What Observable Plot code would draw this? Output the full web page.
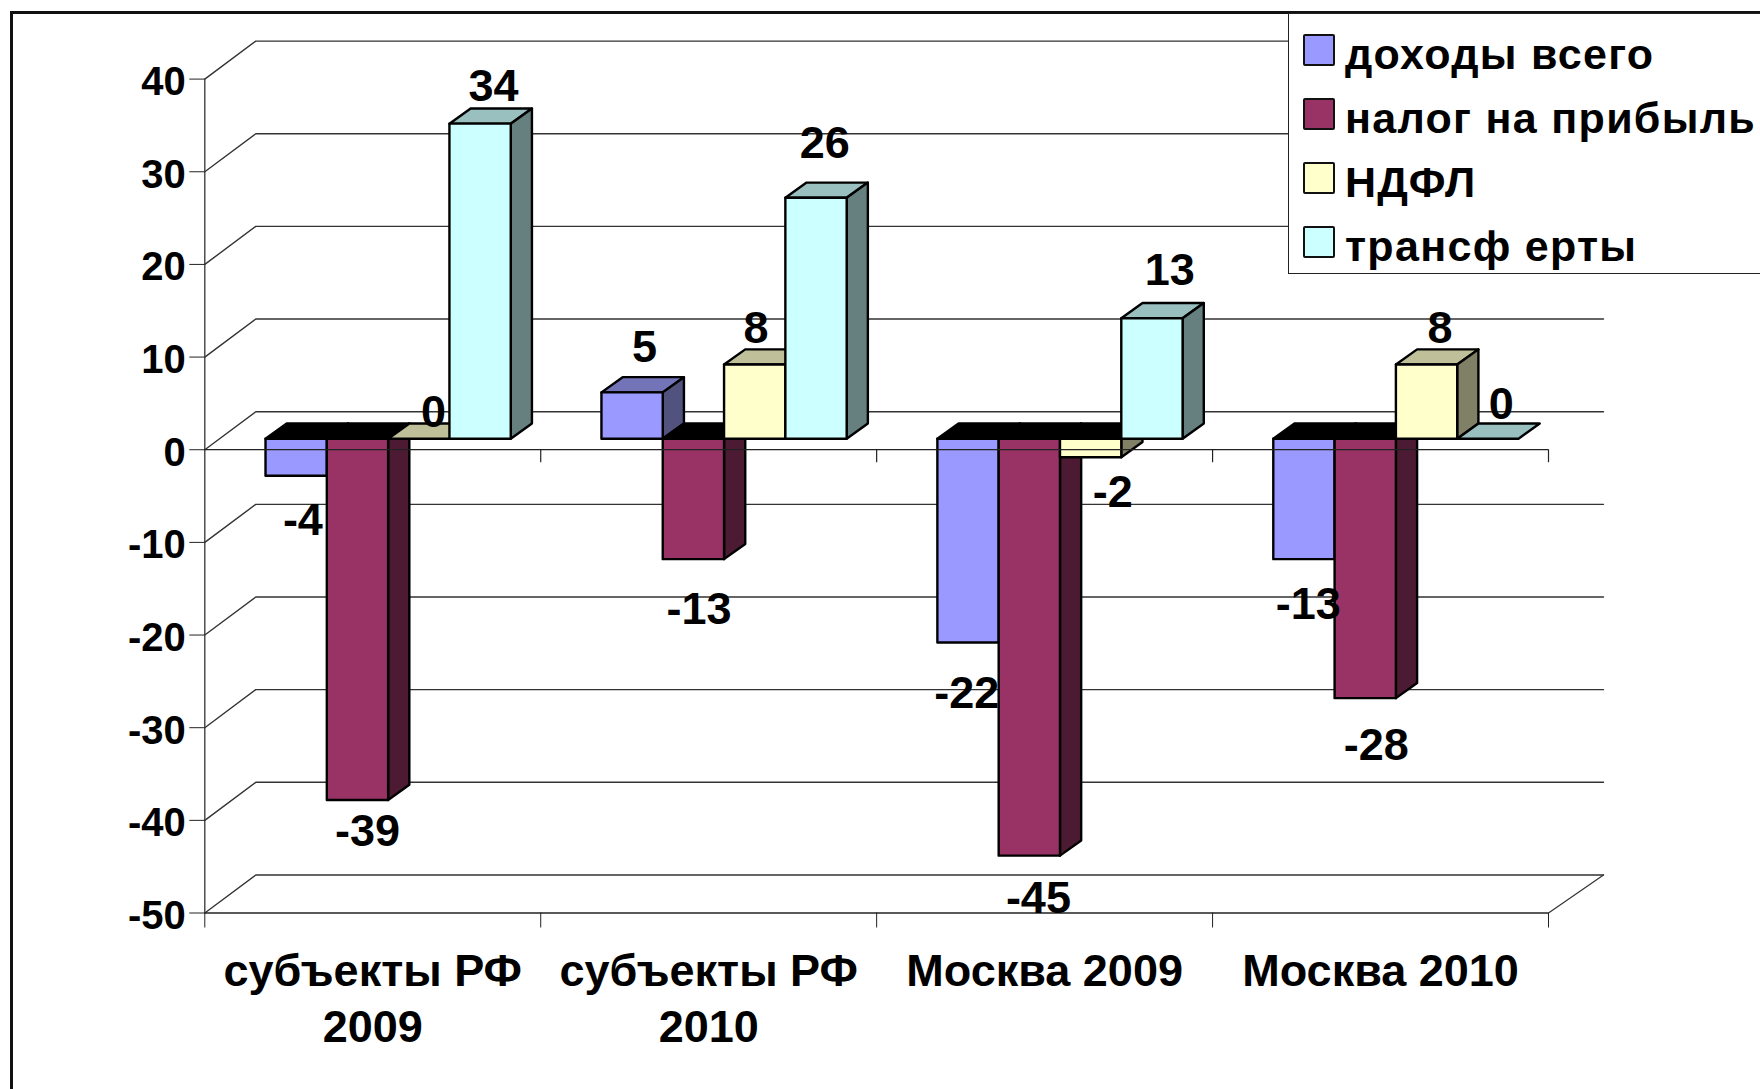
<!DOCTYPE html>
<html><head><meta charset="utf-8">
<script src="https://cdn.jsdelivr.net/npm/d3@7"></script>
<script src="https://cdn.jsdelivr.net/npm/@observablehq/plot@0.6"></script>
<style>
html,body{margin:0;padding:0;background:#fff}
#wrap{position:relative;width:1760px;height:1089px;overflow:hidden;background:#fff}
#frame{position:absolute;left:10px;top:11px;right:-10px;bottom:-10px;border:3px solid #111;pointer-events:none}
#legend{position:absolute;left:1288px;top:13px;width:480px;height:261px;box-sizing:border-box;background:#fff;border:1.5px solid #222;font:bold 43px "Liberation Sans",Arial,sans-serif;color:#000}
.row{position:absolute;left:14px;height:34px}
.sw{position:absolute;left:0;top:0;width:28px;height:28px;border:2.5px solid #111;border-radius:2px}
.lb{position:absolute;left:42px;top:-4px;white-space:nowrap;letter-spacing:1.3px}
svg{display:block;position:absolute;left:0;top:0}
</style></head>
<body><div id="wrap"><div id="chart"></div><div id="frame"></div><div id="legend"></div></div>
<script>
const categories = ["субъекты РФ\n2009", "субъекты РФ\n2010", "Москва 2009", "Москва 2010"];
const seriesNames = ["доходы всего", "налог на прибыль", "НДФЛ", "трансф ерты"];
const incomeTotal = [-4, 5, -22, -13];
const profitTax = [-39, -13, -45, -28];
const personalTax = [0, 8, -2, 8];
const transfers = [34, 26, 13, 0];
const yTicks = [-50, -40, -30, -20, -10, 0, 10, 20, 30, 40];
const edges = [0, 1, 2, 3, 4];
const frontColors = ["#9999ff", "#993366", "#ffffcc", "#ccffff"];
const topColors = ["#7373b8", "#000000", "#bfbf99", "#99bfbf"];
const sideColors = ["#52527f", "#4d1a33", "#808066", "#668080"];
// label nudges relative to the bar's front end: [x in category units, y in value units]
const labelNudgeX = [[.02,.03,.044,.04],[.037,.017,.004,.026],[-.004,.027,.066,.053],[.013,.033,.04,.04]];
const labelNudgeY = [[-5,-3.5,2.7,3.9],[4.7,-5.6,3.8,5.7],[-5.6,-4.7,-3.9,5],[-5,-5.2,3.8,3.6]];

const series = [incomeTotal, profitTax, personalTax, transfers];
const gap = .135, barW = .1825, d0 = .29, d1 = .69;
const skewX = 53 / 336, skewY = 38 / 9.26;
const PX = (x, d) => x + d * skewX, PY = (v, d) => v + d * skewY;
const faces = [];
function face(id, fill, pts) { pts.forEach(([x, v, d]) => faces.push({id, fill, x: PX(x, d), y: PY(v, d)})); }
const labels = [];
categories.forEach((_, g) => series.forEach((s, j) => {
  const v = s[g], a = g + gap + j * barW, b = a + barW, hi = Math.max(v, 0), lo = Math.min(v, 0), key = `${g}-${j}`;
  face(key + "t", v < 0 ? "#000000" : topColors[j], [[a, hi, d0], [b, hi, d0], [b, hi, d1], [a, hi, d1]]);
  if (v !== 0) {
    face(key + "s", sideColors[j], [[b, hi, d0], [b, hi, d1], [b, lo, d1], [b, lo, d0]]);
    face(key + "f", frontColors[j], [[a, hi, d0], [b, hi, d0], [b, lo, d0], [a, lo, d0]]);
  }
  labels.push({x: PX((a + b) / 2, d0) + labelNudgeX[g][j], y: PY(v, d0) + labelNudgeY[g][j], text: String(v)});
}));
const grid = yTicks.flatMap(v => [
  {v, x: PX(0, 0), y: PY(v, 0)}, {v, x: PX(-.006, 1), y: PY(v, 1)}, {v, x: PX(4.006, 1), y: PY(v, 1)}
]);
const floorRight = [{x: PX(4, 0), y: PY(-50, 0)}, {x: PX(4.006, 1), y: PY(-50, 1)}];
const font = '"Liberation Sans",Arial,sans-serif';

const plot = Plot.plot({
  width: 1760, height: 1089,
  marginLeft: 204.3, marginRight: 212, marginTop: 78.6, marginBottom: 176.5,
  style: {background: "transparent", fontFamily: font, color: "#000", overflow: "visible"},
  x: {domain: [0, 4], axis: null},
  y: {domain: [-50, 40], axis: null},
  color: {type: "identity"},
  marks: [
    Plot.line(grid, {x: "x", y: "y", z: "v", stroke: "#333", strokeWidth: 1.4}),
    Plot.line(floorRight, {x: "x", y: "y", stroke: "#333", strokeWidth: 1.2}),
    Plot.ruleX([0], {y1: -50, y2: 40, stroke: "#333", strokeWidth: 1.3}),
    Plot.line(faces, {x: "x", y: "y", z: "id", fill: "fill", stroke: "#000", strokeWidth: 2.4, curve: "linear-closed", strokeLinejoin: "round"}),
    Plot.ruleY([0], {x1: 0, x2: 4, stroke: "#222", strokeWidth: 1.3}),
    Plot.ruleY([-50], {x1: 0, x2: 4, stroke: "#222", strokeWidth: 1.3}),
    Plot.ruleX(edges.slice(1), {y1: 0, y2: -1.4, stroke: "#222", strokeWidth: 1.2}),
    Plot.axisX({ticks: edges, tickSize: 15, tickFormat: () => "", label: null, stroke: "#222"}),
    Plot.axisY({ticks: yTicks, tickSize: 15, tickFormat: () => "", label: null, stroke: "#222"}),
    Plot.text(yTicks, {x: 0, y: d => d, text: d => String(d), dx: -19, dy: 3, textAnchor: "end", fontSize: 40, fontWeight: "bold", fill: "#000"}),
    Plot.text(categories, {x: (_, i) => i + .5, y: -50, text: d => d, dy: 33, lineAnchor: "top", lineHeight: 1.244, fontSize: 45, fontWeight: "bold", fill: "#000"}),
    Plot.text(labels, {x: "x", y: "y", text: "text", dy: -1, fontSize: 45, fontWeight: "bold", fill: "#000"})
  ]
});
document.getElementById("chart").append(plot);

const legend = document.getElementById("legend");
seriesNames.forEach((name, i) => {
  const row = document.createElement("div");
  row.className = "row";
  row.style.top = (20 + i * 64) + "px";
  const sw = document.createElement("div");
  sw.className = "sw"; sw.style.background = frontColors[i];
  const lb = document.createElement("div");
  lb.className = "lb"; lb.textContent = name;
  row.append(sw, lb);
  legend.append(row);
});
</script></body></html>
